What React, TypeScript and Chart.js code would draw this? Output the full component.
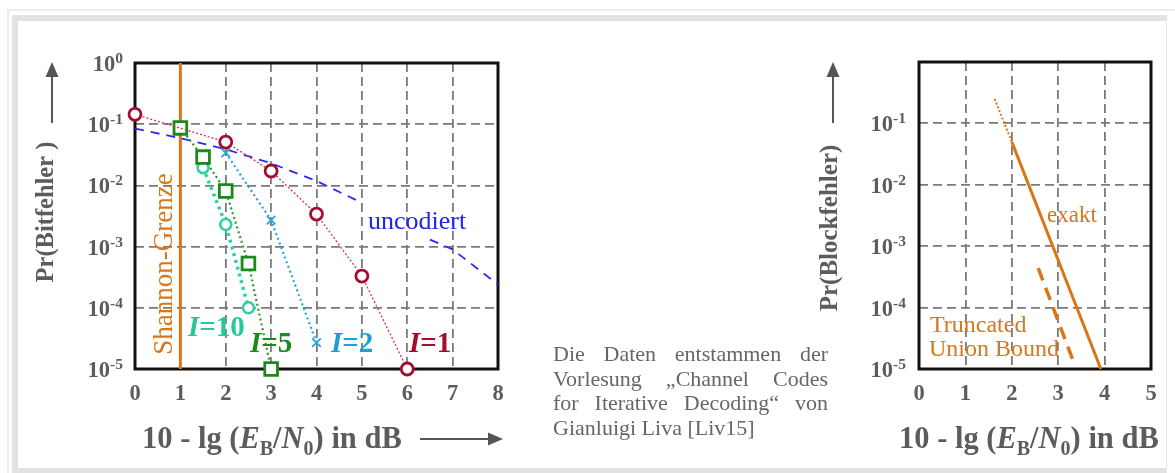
import React, { useEffect, useRef } from 'react';
import { Chart, registerables } from 'chart.js';
Chart.register(...registerables);

const FONT = '"Liberation Serif", "Times New Roman", serif';
const TXT = '#5c5c5c';
const ORANGE = '#d9761a';

// ---- Left chart data ----
const leftXTicks = [0, 1, 2, 3, 4, 5, 6, 7, 8];
const leftYExps = [0, -1, -2, -3, -4, -5];
const i1X = [0, 2, 3, 4, 5, 6];
const i1Y = [0.145, 0.051, 0.0172, 0.0034, 0.00033, 0.00001];
const i2X = [2, 3, 4];
const i2Y = [0.034, 0.0027, 0.000027];
const i5X = [1, 1.5, 2, 2.5, 3];
const i5Y = [0.087, 0.029, 0.0081, 0.00053, 0.00001];
const i10X = [1.5, 2, 2.5];
const i10Y = [0.0195, 0.0023, 0.0001];
const uncodedX = [0, 1, 2, 3, 4, 5, 5.8, 6.5, 7, 8];
const uncodedY = [0.085, 0.059, 0.039, 0.023, 0.0118, 0.0052, null, 0.0013, 0.0009, 0.00024];
const shannonX = [1, 1];
const shannonY = [0.00001, 1];

// ---- Right chart data ----
const rightXTicks = [0, 1, 2, 3, 4, 5];
const rightYExps = [-1, -2, -3, -4, -5];
const exaktDotX = [1.63, 2.0];
const exaktDotY = [0.25, 0.05];
const exaktX = [2.0, 3.92];
const exaktY = [0.05, 0.00001];
const tubX = [2.57, 3.34];
const tubY = [0.00044, 0.0000125];

const pts = (xs: number[], ys: (number | null)[]) => xs.map((x, i) => ({ x, y: ys[i] }));

type Part = { t: string; f: string; dy?: number; c?: string };
function drawParts(ctx: CanvasRenderingContext2D, x: number, y: number, parts: Part[], align: 'left' | 'center' | 'right' = 'left', color = TXT) {
  let w = 0;
  for (const p of parts) { ctx.font = p.f; w += ctx.measureText(p.t).width; }
  let cx = align === 'left' ? x : align === 'center' ? x - w / 2 : x - w;
  ctx.textAlign = 'left';
  ctx.textBaseline = 'alphabetic';
  for (const p of parts) {
    ctx.font = p.f;
    ctx.fillStyle = p.c || color;
    ctx.fillText(p.t, cx, y + (p.dy || 0));
    cx += ctx.measureText(p.t).width;
  }
}

function arrow(ctx: CanvasRenderingContext2D, x1: number, y1: number, x2: number, y2: number) {
  const ang = Math.atan2(y2 - y1, x2 - x1);
  const L = 15, H = 6.5;
  ctx.save();
  ctx.strokeStyle = '#555';
  ctx.fillStyle = '#555';
  ctx.lineWidth = 2;
  ctx.beginPath();
  ctx.moveTo(x1, y1);
  ctx.lineTo(x2 - L * Math.cos(ang), y2 - L * Math.sin(ang));
  ctx.stroke();
  ctx.beginPath();
  ctx.moveTo(x2, y2);
  ctx.lineTo(x2 - L * Math.cos(ang) - H * Math.sin(ang), y2 - L * Math.sin(ang) + H * Math.cos(ang));
  ctx.lineTo(x2 - L * Math.cos(ang) + H * Math.sin(ang), y2 - L * Math.sin(ang) - H * Math.cos(ang));
  ctx.closePath();
  ctx.fill();
  ctx.restore();
}

function rotText(ctx: CanvasRenderingContext2D, x: number, y: number, text: string, font: string, color: string) {
  ctx.save();
  ctx.translate(x, y);
  ctx.rotate(-Math.PI / 2);
  ctx.font = font;
  ctx.fillStyle = color;
  ctx.textAlign = 'center';
  ctx.textBaseline = 'middle';
  ctx.fillText(text, 0, 0);
  ctx.restore();
}

function xTitle(ctx: CanvasRenderingContext2D, x: number, y: number) {
  const B = `bold 30.5px ${FONT}`;
  const BI = `italic bold 30.5px ${FONT}`;
  const S = `bold 20px ${FONT}`;
  drawParts(ctx, x, y, [
    { t: '10 - lg (', f: B },
    { t: 'E', f: BI },
    { t: 'B', f: S, dy: 7 },
    { t: '/', f: B },
    { t: 'N', f: BI },
    { t: '0', f: S, dy: 7 },
    { t: ') in dB', f: B },
  ]);
}

function yTickLabels(ctx: CanvasRenderingContext2D, chart: any, rightX: number, exps: number[]) {
  const ys = chart.scales.y;
  for (const e of exps) {
    const py = ys.getPixelForValue(Math.pow(10, e));
    drawParts(ctx, rightX, py, [
      { t: '10', f: `bold 22.5px ${FONT}`, dy: 8 },
      { t: String(e), f: `bold 15.5px ${FONT}`, dy: 0 },
    ], 'right');
  }
}

function xTickLabels(ctx: CanvasRenderingContext2D, chart: any, ticks: number[], baseY: number) {
  const xs = chart.scales.x;
  for (const t of ticks) {
    drawParts(ctx, xs.getPixelForValue(t), baseY, [{ t: String(t), f: `bold 22.5px ${FONT}` }], 'center');
  }
}

const framePlugin = {
  id: 'frame',
  beforeDatasetsDraw(chart: any) {
    const { ctx, chartArea: a } = chart;
    ctx.save();
    ctx.strokeStyle = '#111';
    ctx.lineWidth = 3;
    ctx.strokeRect(a.left, a.top, a.right - a.left, a.bottom - a.top);
    ctx.restore();
  },
};

const leftDecor = {
  id: 'leftDecor',
  afterDraw(chart: any) {
    const ctx = chart.ctx as CanvasRenderingContext2D;
    yTickLabels(ctx, chart, 123, leftYExps);
    xTickLabels(ctx, chart, leftXTicks, 400);
    xTitle(ctx, 142, 448);
    arrow(ctx, 420, 439, 503, 439);
    rotText(ctx, 47, 212, 'Pr(Bitfehler )', `bold 24.5px ${FONT}`, TXT);
    arrow(ctx, 52, 123, 52, 62);
    rotText(ctx, 165, 264, 'Shannon-Grenze', `27px ${FONT}`, ORANGE);
    ctx.font = `26px ${FONT}`;
    ctx.fillStyle = '#2323ee';
    ctx.textAlign = 'left';
    ctx.fillText('uncodiert', 368, 229);
    const IB = `italic bold 29px ${FONT}`;
    const NB = `bold 29px ${FONT}`;
    drawParts(ctx, 188, 336, [{ t: 'I', f: IB }, { t: '=10', f: NB }], 'left', '#25c99b');
    drawParts(ctx, 250, 352, [{ t: 'I', f: IB }, { t: '=5', f: NB }], 'left', '#1c8a1c');
    drawParts(ctx, 331, 352, [{ t: 'I', f: IB }, { t: '=2', f: NB }], 'left', '#1f9fd8');
    drawParts(ctx, 409, 352, [{ t: 'I', f: IB }, { t: '=1', f: NB }], 'left', '#a50d30');
  },
};

const rightDecor = {
  id: 'rightDecor',
  afterDraw(chart: any) {
    const ctx = chart.ctx as CanvasRenderingContext2D;
    yTickLabels(ctx, chart, 906, rightYExps);
    xTickLabels(ctx, chart, rightXTicks, 400);
    xTitle(ctx, 899, 448);
    rotText(ctx, 831, 228, 'Pr(Blockfehler)', `bold 25px ${FONT}`, TXT);
    arrow(ctx, 833, 123, 833, 62);
    ctx.fillStyle = ORANGE;
    ctx.textAlign = 'left';
    ctx.textBaseline = 'alphabetic';
    ctx.font = `23px ${FONT}`;
    ctx.fillText('exakt', 1047, 222);
    ctx.font = `24px ${FONT}`;
    ctx.fillText('Truncated', 930, 332);
    ctx.fillText('Union Bound', 929, 356);
  },
};

function scalesCfg(xMax: number) {
  return {
    x: {
      type: 'linear', min: 0, max: xMax,
      ticks: { display: false, stepSize: 1 },
      grid: { color: '#7a7a7a', lineWidth: 1.8, drawTicks: false, tickLength: 0 },
      border: { display: false, dash: [9, 5] },
    },
    y: {
      type: 'logarithmic', min: 1e-5, max: 1,
      ticks: { display: false },
      afterBuildTicks: (s: any) => { s.ticks = [1e-5, 1e-4, 1e-3, 1e-2, 1e-1, 1].map((v) => ({ value: v })); },
      grid: { color: '#7a7a7a', lineWidth: 1.8, drawTicks: false, tickLength: 0 },
      border: { display: false, dash: [9, 5] },
    },
  };
}

function leftConfig(): any {
  return {
    type: 'line',
    data: {
      datasets: [
        { label: 'I=1', data: pts(i1X, i1Y), borderColor: '#c23a5a', borderWidth: 1.3, borderDash: [2, 2],
          pointStyle: 'circle', pointRadius: 6, pointBorderWidth: 2.8, pointBorderColor: '#a50d30', pointBackgroundColor: '#fff', clip: false },
        { label: 'I=2', data: pts(i2X, i2Y), borderColor: '#2aa5dc', borderWidth: 2.2, borderDash: [2, 3],
          pointStyle: 'crossRot', pointRadius: 6, pointBorderWidth: 1.8, pointBorderColor: '#2aa5dc', clip: false },
        { label: 'I=5', data: pts(i5X, i5Y), borderColor: '#2a992a', borderWidth: 2.2, borderDash: [2, 3],
          pointStyle: 'rect', pointRadius: 9, pointBorderWidth: 2.8, pointBorderColor: '#1a8a1a', pointBackgroundColor: '#fff', clip: false },
        { label: 'I=10', data: pts(i10X, i10Y), borderColor: '#2fd0a5', borderWidth: 3.5, borderDash: [3, 4],
          pointStyle: 'circle', pointRadius: 5.5, pointBorderWidth: 2.6, pointBorderColor: '#2fd0a5', pointBackgroundColor: '#fff', clip: false },
        { label: 'uncodiert', data: pts(uncodedX, uncodedY), borderColor: '#2a2aff', borderWidth: 1.8, borderDash: [9, 7],
          pointRadius: 0, spanGaps: false },
        { label: 'Shannon', data: pts(shannonX, shannonY), borderColor: ORANGE, borderWidth: 3, pointRadius: 0 },
      ],
    },
    options: {
      animation: false,
      responsive: false,
      events: [],
      layout: { padding: { left: 135, top: 63, right: 1175 - 498, bottom: 473 - 369 } },
      plugins: { legend: { display: false }, tooltip: { enabled: false } },
      scales: scalesCfg(8),
    },
    plugins: [framePlugin, leftDecor],
  };
}

function rightConfig(): any {
  return {
    type: 'line',
    data: {
      datasets: [
        { label: 'exakt (extrapoliert)', data: pts(exaktDotX, exaktDotY), borderColor: ORANGE, borderWidth: 2, borderDash: [2, 2], pointRadius: 0 },
        { label: 'exakt', data: pts(exaktX, exaktY), borderColor: ORANGE, borderWidth: 3, pointRadius: 0, clip: false },
        { label: 'Truncated Union Bound', data: pts(tubX, tubY), borderColor: ORANGE, borderWidth: 3.5, borderDash: [13, 8], pointRadius: 0 },
      ],
    },
    options: {
      animation: false,
      responsive: false,
      events: [],
      layout: { padding: { left: 919, top: 62, right: 1175 - 1151, bottom: 473 - 369 } },
      plugins: { legend: { display: false }, tooltip: { enabled: false } },
      scales: scalesCfg(5),
    },
    plugins: [framePlugin, rightDecor],
  };
}

const noteLines = [
  'Die Daten entstammen der',
  'Vorlesung \u201EChannel Codes',
  'for Iterative Decoding\u201C von',
  'Gianluigi Liva [Liv15]',
];

export default function App() {
  const leftRef = useRef<HTMLCanvasElement>(null);
  const rightRef = useRef<HTMLCanvasElement>(null);
  useEffect(() => {
    const c1 = new Chart(leftRef.current as HTMLCanvasElement, leftConfig());
    const c2 = new Chart(rightRef.current as HTMLCanvasElement, rightConfig());
    return () => { c1.destroy(); c2.destroy(); };
  }, []);
  const cv: React.CSSProperties = { position: 'absolute', left: 0, top: 0, width: 1175, height: 473 };
  return (
    <div style={{ position: 'fixed', left: 0, top: 0, width: 1175, height: 473, background: '#fff', overflow: 'hidden' }}>
      <div style={{ position: 'absolute', left: 7, top: 9, width: 1200, height: 500, borderLeft: '2px solid #ececec', borderTop: '2px solid #ececec' }} />
      <div style={{ position: 'absolute', left: 12, top: 15, width: 1148, height: 447, border: '6px solid #e2e2e2', borderRight: '1px solid #e6e6e6' }} />
      <canvas ref={leftRef} width={1175} height={473} style={cv} />
      <canvas ref={rightRef} width={1175} height={473} style={cv} />
      <div style={{ position: 'absolute', left: 553, top: 342, width: 275, fontFamily: FONT, fontSize: 22, lineHeight: '24.5px', color: '#666' }}>
        {noteLines.map((l, i) => (
          <div key={i} style={{ textAlign: i < noteLines.length - 1 ? 'justify' : 'left', textAlignLast: i < noteLines.length - 1 ? 'justify' : 'left', whiteSpace: 'nowrap' as any }}>{l}</div>
        ))}
      </div>
    </div>
  );
}
